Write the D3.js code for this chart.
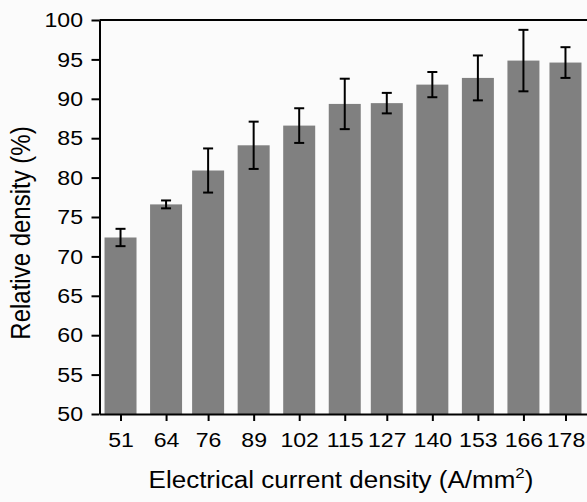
<!DOCTYPE html>
<html>
<head>
<meta charset="utf-8">
<script src="https://cdn.jsdelivr.net/npm/d3@7"></script>
<style>
  body { margin: 0; background: #fbfbfb; }
  svg { display: block; font-family: "Liberation Sans", Arial, sans-serif; }
</style>
</head>
<body>
<svg id="chart" width="587" height="502"></svg>
<script>
// current density (A/mm2), mean relative density (%), error (+/-)
let currents = [51, 64, 76, 89, 102, 115, 127, 140, 153, 166, 178]
let densities = [72.4, 76.6, 80.9, 84.1, 86.6, 89.35, 89.45, 91.8, 92.65, 94.85, 94.6]
let errors = [1.1, 0.5, 2.8, 3.0, 2.2, 3.2, 1.3, 1.6, 2.85, 3.9, 1.95]
let yTicks = [50, 55, 60, 65, 70, 75, 80, 85, 90, 95, 100]

let data = currents.map((c, i) => ({ c: c, v: densities[i], e: errors[i] }))

let svg = d3.select('#chart')

let plotLeft = 99.5, plotRight = 590, plotTop = 20, plotBottom = 414
let barW = 32, capW = 10
let stretch = 1.1   // the original text is a little wider than Arial

let x = d3.scaleLinear().domain([45, 185]).range([plotLeft, plotRight])
let y = d3.scaleLinear().domain([50, 100]).range([plotBottom, plotTop])

// bars
svg.append('g')
   .selectAll('rect')
   .data(data)
   .enter()
   .append('rect')
   .attr('x', (d) => x(d.c) - barW / 2)
   .attr('y', (d) => y(d.v))
   .attr('width', barW)
   .attr('height', (d) => y(50) - y(d.v))
   .attr('fill', '#808080')

// error bars
let err = svg.append('g')
             .selectAll('g')
             .data(data)
             .enter()
             .append('g')
             .attr('stroke', '#000')
             .attr('stroke-width', 2)

err.append('line')
   .attr('x1', (d) => x(d.c)).attr('x2', (d) => x(d.c))
   .attr('y1', (d) => y(d.v + d.e)).attr('y2', (d) => y(d.v - d.e))
err.append('line')
   .attr('x1', (d) => x(d.c) - capW / 2).attr('x2', (d) => x(d.c) + capW / 2)
   .attr('y1', (d) => y(d.v + d.e)).attr('y2', (d) => y(d.v + d.e))
err.append('line')
   .attr('x1', (d) => x(d.c) - capW / 2).attr('x2', (d) => x(d.c) + capW / 2)
   .attr('y1', (d) => y(d.v - d.e)).attr('y2', (d) => y(d.v - d.e))

// top frame line
svg.append('line')
   .attr('x1', plotLeft).attr('x2', plotRight)
   .attr('y1', plotTop).attr('y2', plotTop)
   .attr('stroke', '#000')
   .attr('stroke-width', 2)

// axes
let yAxis = svg.append('g')
               .attr('transform', `translate(${plotLeft},0)`)
               .call(d3.axisLeft(y).tickValues(yTicks).tickSize(8).tickSizeOuter(0).tickPadding(7))
let xAxis = svg.append('g')
               .attr('transform', `translate(0,${plotBottom})`)
               .call(d3.axisBottom(x).tickValues(currents).tickSize(7).tickSizeOuter(0).tickPadding(11))

;[yAxis, xAxis].forEach((a) => {
    a.selectAll('path, line').attr('stroke', '#000').attr('stroke-width', 2)
    a.selectAll('text')
     .attr('fill', '#000')
     .attr('transform', `scale(${stretch},1)`)
     .style('font-size', '21px')
    a.attr('font-family', null)
})

// axis titles
svg.append('text')
   .attr('transform', 'translate(341,488) scale(1.13,1)')
   .attr('text-anchor', 'middle')
   .style('font-size', '23px')
   .html('Electrical current density (A/mm<tspan dy="-10" style="font-size:15px">2</tspan><tspan dy="10">)</tspan>')

svg.append('text')
   .attr('transform', 'translate(30,233) scale(1.12,1) rotate(-90)')
   .attr('text-anchor', 'middle')
   .style('font-size', '24px')
   .text('Relative density (%)')
</script>
</body>
</html>
